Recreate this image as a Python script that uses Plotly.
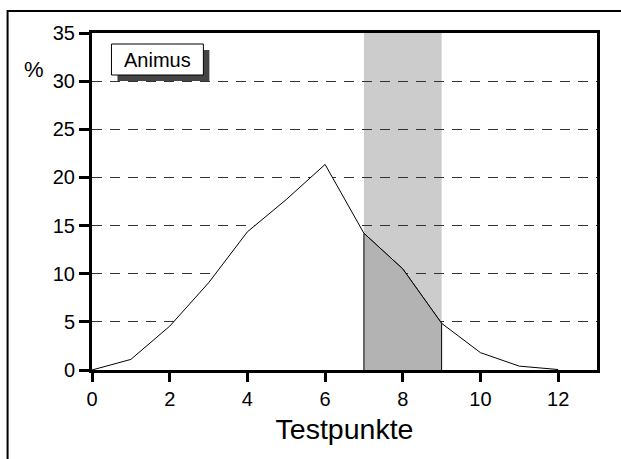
import plotly.graph_objects as go

# Data
testpunkte = [0, 1, 2, 3, 4, 5, 6, 7, 8, 9, 10, 11, 12]
prozent = [0.0, 1.1, 4.55, 9.05, 14.35, 17.7, 21.35, 14.2, 10.5, 4.85, 1.8, 0.4, 0.05]
band_start, band_end = 7, 9
x_ticks = [0, 2, 4, 6, 8, 10, 12]
y_ticks = [0, 5, 10, 15, 20, 25, 30, 35]
legend_label = "Animus"

FONT = "Liberation Sans, Arial, sans-serif"

fig = go.Figure()

# white fill under curve (covers gridlines)
fig.add_trace(go.Scatter(
    x=testpunkte, y=prozent, mode="lines", fill="tozeroy",
    fillcolor="white", line=dict(color="black", width=1),
    hoverinfo="skip", showlegend=False))

# dark area in band
bx = [band_start] + [x for x in testpunkte if band_start <= x <= band_end] + [band_end]
by = [0] + [y for x, y in zip(testpunkte, prozent) if band_start <= x <= band_end] + [0]
fig.add_trace(go.Scatter(
    x=bx, y=by, mode="lines", fill="toself",
    fillcolor="#b3b3b3", line=dict(color="black", width=1),
    hoverinfo="skip", showlegend=False))

L, R, T, B = 91.5, 597, 33, 370
W, H = R - L, B - T

def px(xp):
    return (xp - L) / W

def py(yp):
    return (B - yp) / H

shapes = [
    dict(type="rect", xref="x", yref="y", x0=band_start, x1=band_end, y0=0, y1=35,
         fillcolor="#cccccc", line=dict(width=0), layer="below"),
    dict(type="rect", xref="paper", yref="paper", x0=px(7), x1=px(640), y0=py(480), y1=py(11),
         line=dict(color="black", width=2), fillcolor="rgba(0,0,0,0)", layer="above"),
    dict(type="rect", xref="paper", yref="paper", x0=px(117), x1=px(209), y0=py(81), y1=py(50),
         fillcolor="#444444", line=dict(width=0), layer="above"),
    dict(type="rect", xref="paper", yref="paper", x0=px(111), x1=px(203), y0=py(75), y1=py(44),
         fillcolor="white", line=dict(color="black", width=1), layer="above"),
]

annotations = [
    dict(text=legend_label, xref="paper", yref="paper", x=px(157), y=py(59.5),
         xanchor="center", yanchor="middle", showarrow=False,
         font=dict(size=20, color="black", family=FONT)),
    dict(text="%", xref="paper", yref="paper", x=px(33), y=py(69),
         xanchor="center", yanchor="middle", showarrow=False,
         font=dict(size=22, color="black", family=FONT)),
]

fig.update_layout(
    width=621, height=459,
    margin=dict(l=L, r=621 - R, t=T, b=459 - B),
    paper_bgcolor="white", plot_bgcolor="white",
    font=dict(family=FONT, color="black", size=20),
    shapes=shapes, annotations=annotations,
    showlegend=False,
)

fig.update_xaxes(
    range=[0, 13], tickvals=x_ticks, ticks="outside", ticklen=9, tickwidth=2.5,
    tickcolor="black", showline=True, linecolor="black", linewidth=3, mirror=True,
    showgrid=False, zeroline=False, tickfont=dict(size=20),
    title=dict(text="Testpunkte", font=dict(size=28.5), standoff=11),
)
fig.update_yaxes(
    range=[0, 35], tickvals=y_ticks, ticks="outside", ticklen=10, tickwidth=2.5,
    tickcolor="black", showline=True, linecolor="black", linewidth=3, mirror=True,
    showgrid=True, gridcolor="#333333", gridwidth=1, griddash="10px,8px",
    zeroline=False, tickfont=dict(size=20),
)

fig.write_html("out.html", config={"displayModeBar": False},
               post_script="document.body.style.margin='0px';")
